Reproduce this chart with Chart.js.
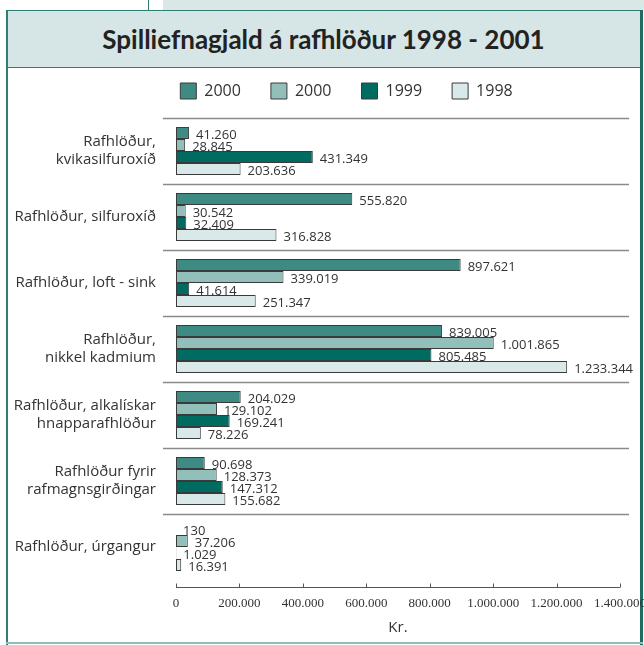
<!DOCTYPE html>
<html>
<head>
<meta charset="utf-8">
<script src="https://cdn.jsdelivr.net/npm/chart.js@4.4.1/dist/chart.umd.min.js"></script>
<style>
  body { margin: 0; background: #fff; }
  #wrap { position: relative; width: 644px; height: 645px; overflow: hidden; }
  .deco { position: absolute; }
  #title { position: absolute; left: 7px; top: 11px; width: 633px; height: 56px; line-height: 56px;
           text-align: center; font-family: Lato, sans-serif; font-weight: bold; font-size: 26px; color: #222; }
  #chart { position: absolute; left: 0; top: 0; }
</style>
</head>
<body>
<div id="wrap">
  <div class="deco" style="left:148px;top:0;width:1px;height:11px;background:#2c7a70"></div>
  <div class="deco" style="left:163px;top:0;width:481px;height:10px;background:#d9e7e7"></div>
  <div class="deco" style="left:6px;top:10px;width:636px;height:56px;background:#d6e5e5;border-top:1.5px solid #2f7d73;border-bottom:1.5px solid #2f7d73"></div>
  <div class="deco" style="left:6px;top:10px;width:1.5px;height:635px;background:#2f7d73"></div>
  <div class="deco" style="left:640px;top:10px;width:3px;height:635px;background:#1f6c62"></div>
  <div class="deco" style="left:6px;top:642px;width:637px;height:2px;background:#8fbfb8"></div>
  <div id="title">Spilliefnagjald á rafhlöður 1998 - 2001</div>
  <canvas id="chart" width="644" height="645"></canvas>
</div>
<script>
const categories = [
    ['Rafhlöður,', 'kvikasilfuroxíð'],
    'Rafhlöður, silfuroxíð',
    'Rafhlöður, loft - sink',
    ['Rafhlöður,', 'nikkel kadmium'],
    ['Rafhlöður, alkalískar', 'hnapparafhlöður'],
    ['Rafhlöður fyrir', 'rafmagnsgirðingar'],
    'Rafhlöður, úrgangur'
];

const values2000a = [41260, 555820, 897621, 839005, 204029, 90698, 130];
const values2000b = [28845, 30542, 339019, 1001865, 129102, 128373, 37206];
const values1999 = [431349, 32409, 41614, 805485, 169241, 147312, 1029];
const values1998 = [203636, 316828, 251347, 1233344, 78226, 155682, 16391];

const seriesLabels = ['2000', '2000', '1999', '1998'];
const xTicks = [0, 200000, 400000, 600000, 800000, 1000000, 1200000, 1400000];

function fmt(v) {
    return v.toString().replace(/\B(?=(\d{3})+(?!\d))/g, '.');
}

// extra room under the legend, and push it a bit to the right like the original
const legendTweak = {
    id: 'legendTweak',
    beforeInit(chart) {
        const fit = chart.legend.fit;
        chart.legend.fit = function() {
            fit.bind(chart.legend)();
            this.height += 9;
        };
    },
    afterLayout(chart) {
        chart.legend.left += 33;
        chart.legend.right += 33;
    }
};

// separators between groups + bottom axis line with small upward ticks, value labels
const decorPlugin = {
    id: 'decor',
    beforeDatasetsDraw(chart) {
        const ctx = chart.ctx;
        const y = chart.scales.y;
        const x = chart.scales.x;
        const area = chart.chartArea;
        const step = y.getPixelForValue(1) - y.getPixelForValue(0);
        ctx.save();
        ctx.strokeStyle = '#8a8a8a';
        ctx.lineWidth = 1.5;
        for (let i = 0; i < categories.length; i++) {
            const yy = Math.round(y.getPixelForValue(i) - step / 2) + 0.5;
            ctx.beginPath();
            ctx.moveTo(area.left - 13, yy);
            ctx.lineTo(area.right + 9, yy);
            ctx.stroke();
        }
        const ay = area.bottom + 7.5;
        ctx.strokeStyle = '#555';
        ctx.lineWidth = 1;
        ctx.beginPath();
        ctx.moveTo(x.getPixelForValue(0), ay);
        ctx.lineTo(x.getPixelForValue(1400000), ay);
        ctx.stroke();
        xTicks.forEach(t => {
            const tx = Math.round(x.getPixelForValue(t)) + 0.5;
            ctx.beginPath();
            ctx.moveTo(tx, ay);
            ctx.lineTo(tx, ay - 4);
            ctx.stroke();
        });
        ctx.restore();
    },
    afterDatasetsDraw(chart) {
        const ctx = chart.ctx;
        ctx.save();
        ctx.font = '13px "Open Sans", sans-serif';
        ctx.fillStyle = '#333';
        ctx.textBaseline = 'middle';
        ctx.textAlign = 'left';
        chart.data.datasets.forEach((ds, di) => {
            const meta = chart.getDatasetMeta(di);
            meta.data.forEach((bar, i) => {
                ctx.fillText(fmt(ds.data[i]), bar.x + 7, bar.y + 2);
            });
        });
        ctx.restore();
    }
};

const ctx = document.getElementById('chart').getContext('2d');

const myChart = new Chart(ctx, {
    type: 'bar',
    data: {
        labels: categories,
        datasets: [
            { label: seriesLabels[0], data: values2000a, backgroundColor: '#3d8b82' },
            { label: seriesLabels[1], data: values2000b, backgroundColor: '#93bfbb' },
            { label: seriesLabels[2], data: values1999, backgroundColor: '#006b60' },
            { label: seriesLabels[3], data: values1998, backgroundColor: '#d9e8e8' }
        ]
    },
    options: {
        indexAxis: 'y',
        responsive: false,
        animation: false,
        datasets: {
            bar: {
                borderColor: '#3a3a3a',
                borderWidth: 1,
                borderSkipped: false,
                barPercentage: 1,
                categoryPercentage: 0.73
            }
        },
        layout: { padding: { top: 53, left: 7, right: 24, bottom: 0 } },
        plugins: {
            legend: {
                position: 'top',
                labels: {
                    boxWidth: 16,
                    boxHeight: 16,
                    padding: 30,
                    color: '#333',
                    font: { family: 'Open Sans', size: 16 }
                }
            },
            tooltip: { enabled: false }
        },
        scales: {
            x: {
                min: 0,
                max: 1400000,
                afterBuildTicks(scale) {
                    scale.ticks = xTicks.map(v => ({ value: v }));
                },
                afterFit(scale) {
                    scale.height = 65;
                    scale.paddingLeft = 0;
                    scale.paddingRight = 0;
                },
                grid: { display: false },
                border: { display: false },
                ticks: {
                    padding: 8,
                    maxRotation: 0,
                    color: '#333',
                    font: { family: 'Liberation Serif', size: 13 },
                    callback: v => fmt(v)
                },
                title: {
                    display: true,
                    text: 'Kr.',
                    color: '#333',
                    padding: { top: 0, bottom: 8 },
                    font: { family: 'Open Sans', size: 15 }
                }
            },
            y: {
                afterFit(scale) { scale.width = 169; },
                grid: { display: false },
                border: { display: false },
                ticks: {
                    padding: 12,
                    color: '#333',
                    font: { family: 'Open Sans', size: 15, lineHeight: 1.2 }
                }
            }
        }
    },
    plugins: [legendTweak, decorPlugin]
});
</script>
</body>
</html>
